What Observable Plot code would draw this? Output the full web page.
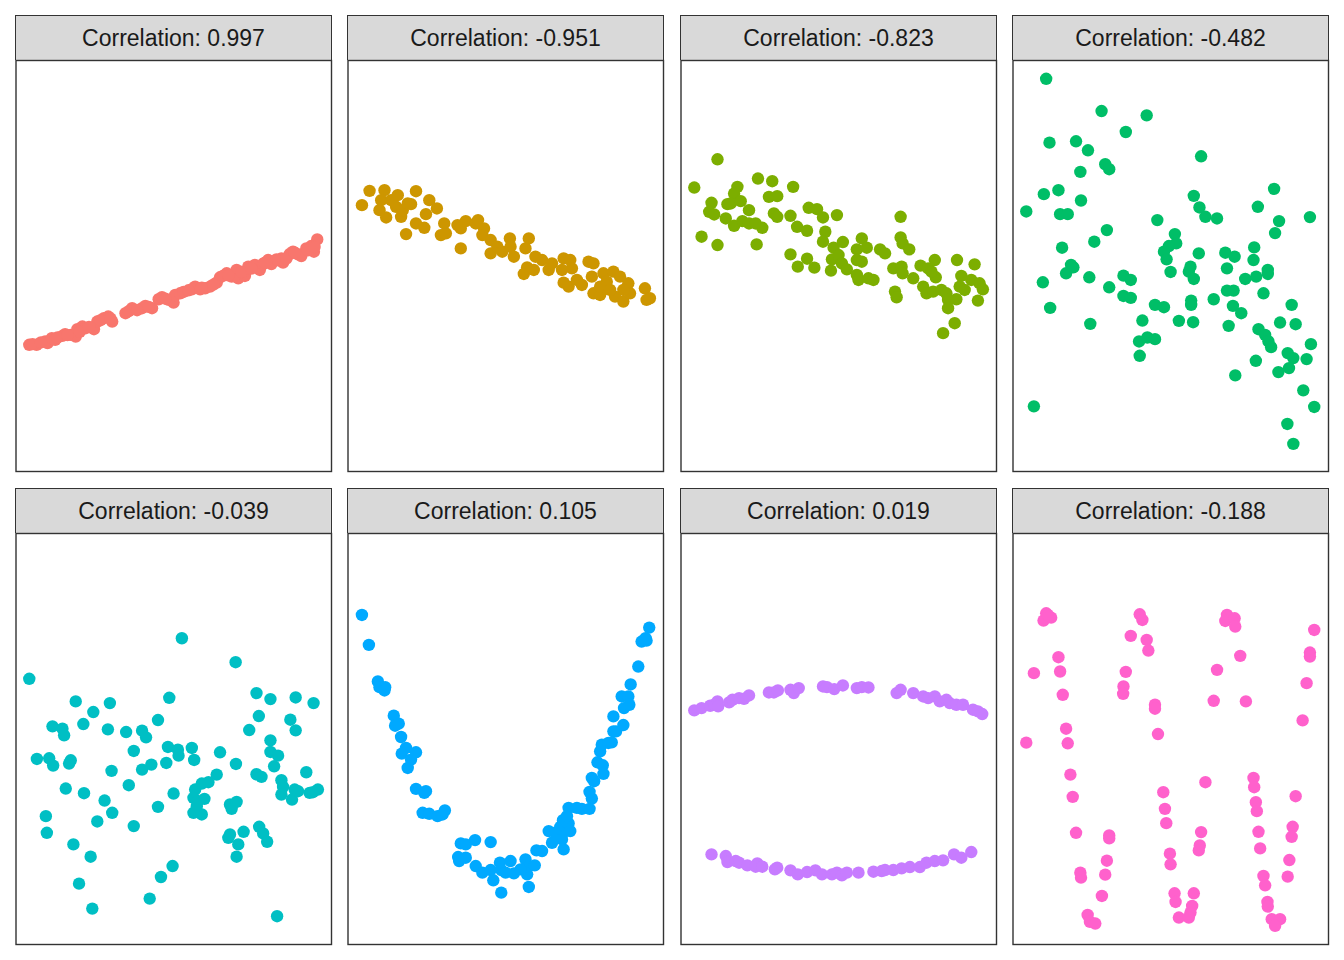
<!DOCTYPE html>
<html>
<head>
<meta charset="utf-8">
<script src="https://cdn.jsdelivr.net/npm/d3@7"></script>
<script src="https://cdn.jsdelivr.net/npm/@observablehq/plot@0.6"></script>
<style>
  html, body { margin: 0; padding: 0; background: #fff; }
  body { width: 1344px; height: 960px; position: relative; font-family: "Liberation Sans", Arial, Helvetica, sans-serif; }
  .strip { position: absolute; box-sizing: border-box; background: #d9d9d9; border: 1px solid #333; border-bottom: none;
           color: #1a1a1a; font-size: 23px; text-align: center; }
  .panel { position: absolute; }
  .panel svg { display: block; overflow: visible; }
</style>
</head>
<body>
<script>
// Facet titles
const labels = ["Correlation: 0.997", "Correlation: -0.951", "Correlation: -0.823", "Correlation: -0.482",
                "Correlation: -0.039", "Correlation: 0.105", "Correlation: 0.019", "Correlation: -0.188"];
const colors = ["#F8766D", "#CD9600", "#7CAE00", "#00BE67", "#00BFC4", "#00A9FF", "#C77CFF", "#FF61CC"];

// Each panel: [x, y] pairs (free scales)
const panel1 = [[4.0,38.1],[6.2,38.1],[8.8,39.1],[9.5,38.6],[10.8,40.1],[11.8,39.6],[14.0,40.8],[14.8,41.3],[16.5,41.1],[18.0,40.6],[18.5,42.8],[20.0,43.6],[21.0,43.1],[23.5,42.8],[24.5,45.1],[26.5,46.1],[27.8,46.6],[29.0,45.1],[33.0,47.6],[35.0,49.1],[38.0,49.1],[39.0,49.8],[41.0,49.1],[43.0,51.8],[44.0,52.4],[46.0,51.6],[47.5,50.8],[48.0,53.1],[49.5,53.6],[53.0,54.8],[54.0,55.6],[55.5,54.8],[57.0,55.1],[58.5,55.6],[60.5,56.8],[61.5,58.4],[63.5,59.6],[65.0,58.6],[66.5,60.6],[67.0,58.1],[69.0,58.8],[70.0,61.6],[72.0,62.1],[73.5,60.6],[74.5,62.4],[76.0,63.6],[77.0,62.4],[78.5,63.8],[80.0,64.1],[80.5,62.8],[82.5,65.4],[83.5,66.1],[85.0,65.3],[86.0,64.8],[87.5,67.1],[89.0,67.8],[89.8,66.1],[90.8,69.8],
  [5.0,38.3],[7.5,38.8],[12.5,40.3],[15.5,41.0],[19.2,42.0],[22.0,43.5],[25.5,45.5],[28.5,46.0],[34.0,48.2],[36.5,48.5],[40.0,49.5],[45.0,52.0],[50.5,54.0],[52.0,54.5],[56.0,55.3],[59.5,56.2],[62.5,58.9],[64.0,59.0],[68.0,60.0],[71.0,61.0],[75.0,62.8],[79.0,63.5],[81.5,64.0],[84.0,65.8],[88.0,66.5],[90.0,67.5]];
const panel2 = [[6.5,84.4],[11.0,84.6],[20.5,84.3],[4.2,80.1],[10.0,81.6],[9.5,78.6],[11.5,76.4],[13.0,81.6],[15.0,83.1],[14.5,79.6],[16.0,76.6],[16.5,78.6],[18.0,80.6],[19.0,80.4],[24.5,81.6],[26.8,79.1],[23.5,77.4],[20.5,74.6],[23.0,73.3],[17.5,71.4],[29.0,74.6],[28.0,71.1],[29.5,71.6],[33.0,74.1],[34.0,73.1],[35.5,75.3],[38.5,74.6],[39.2,75.6],[41.0,73.1],[40.5,71.1],[34.0,67.1],[43.0,69.6],[43.0,65.6],[45.0,67.6],[46.5,66.1],[48.8,70.1],[49.0,67.6],[50.0,64.6],[54.5,70.1],[53.5,67.1],[54.0,61.4],[53.0,59.4],[56.0,60.6],[56.5,64.6],[58.5,63.6],[60.5,60.6],[61.5,62.6],[65.0,64.1],[67.0,63.6],[64.5,60.6],[65.0,56.8],[66.5,55.6],[67.5,61.1],[69.0,57.6],[70.5,56.1],[72.5,63.1],[74.0,62.6],[73.5,58.6],[74.0,53.6],[76.0,53.1],[77.0,59.6],[78.0,57.1],[80.0,60.1],[82.0,58.6],[80.5,52.6],[83.0,51.1],[84.5,56.6],[85.0,53.6],[89.5,55.1],[90.0,51.6],[91.0,52.1],[76.0,55.6],[79.0,54.6],[83.0,54.6]];
const panel3 = [[11.0,93.9],[4.0,85.4],[17.0,85.6],[16.0,83.6],[23.2,88.1],[27.5,87.3],[33.8,85.6],[9.2,80.8],[8.5,78.1],[10.0,77.3],[14.0,80.4],[15.0,80.6],[18.0,81.3],[20.5,78.6],[26.5,82.6],[29.0,82.8],[13.5,76.1],[16.0,73.9],[18.5,75.3],[20.5,74.6],[22.5,74.6],[24.5,73.3],[6.2,70.6],[11.0,68.1],[22.8,68.3],[28.0,77.6],[29.0,76.6],[33.0,76.9],[35.0,73.6],[38.0,72.4],[38.5,79.3],[41.0,78.9],[42.8,76.4],[47.0,77.1],[43.5,72.1],[42.8,69.1],[46.0,67.3],[48.8,69.0],[54.5,70.1],[53.0,66.8],[56.0,67.3],[33.0,65.3],[35.2,61.6],[38.0,64.0],[40.2,61.3],[45.2,60.4],[45.5,63.8],[47.5,65.1],[48.5,62.6],[50.0,60.8],[53.0,59.1],[53.5,57.6],[53.0,63.6],[54.5,63.1],[56.5,58.1],[58.0,57.6],[60.0,66.8],[61.5,65.6],[66.2,76.6],[66.2,70.4],[66.8,68.6],[68.8,66.8],[64.0,61.1],[66.5,61.6],[66.8,59.6],[64.5,54.1],[65.0,52.4],[70.0,58.1],[72.2,61.9],[74.5,61.1],[76.5,63.6],[76.8,58.4],[73.0,55.6],[74.0,53.6],[76.0,54.1],[78.5,54.6],[80.0,53.6],[80.5,51.6],[80.5,49.1],[83.0,51.8],[83.2,63.6],[84.5,58.8],[84.0,55.6],[85.5,54.6],[87.5,57.6],[88.5,62.3],[90.0,56.6],[91.0,54.8],[89.5,51.4],[82.5,44.6],[79.0,41.6],[75.5,60.1]];
const panel4 = [[10.0,118.1],[26.7,108.4],[40.3,107.1],[34.0,102.1],[11.0,98.9],[19.0,99.3],[22.6,96.6],[27.8,92.4],[29.0,90.9],[20.3,90.1],[56.7,94.8],[9.3,83.4],[13.7,84.6],[20.5,81.5],[4.0,78.2],[14.2,77.4],[16.5,77.4],[54.5,82.9],[56.2,79.4],[58.0,76.6],[61.5,76.1],[43.5,75.6],[73.8,79.6],[78.7,85.0],[89.5,76.5],[80.2,75.3],[79.0,71.7],[28.3,72.6],[24.5,69.1],[14.8,67.3],[48.8,71.4],[49.2,68.6],[47.0,67.8],[45.5,66.1],[46.3,63.8],[56.0,65.6],[64.0,65.8],[66.8,64.6],[72.7,67.4],[72.5,63.6],[64.5,61.1],[53.5,61.6],[53.0,60.1],[54.5,57.9],[47.5,60.0],[17.5,62.1],[16.0,59.6],[18.2,61.4],[23.0,58.4],[9.0,56.9],[29.0,55.4],[33.3,58.9],[35.5,57.6],[33.3,52.8],[35.5,52.2],[70.0,57.9],[73.3,58.6],[76.8,60.6],[76.8,59.4],[64.5,54.4],[66.5,54.4],[75.5,53.6],[60.5,51.8],[53.7,51.4],[53.7,50.1],[42.8,50.1],[45.5,49.4],[66.3,49.8],[68.8,47.6],[11.2,49.2],[23.3,44.4],[39.0,45.4],[50.0,45.3],[54.3,44.9],[65.0,43.8],[74.0,42.8],[76.0,41.1],[77.0,39.1],[77.8,37.4],[80.5,44.8],[84.0,50.1],[85.2,44.3],[89.8,38.3],[88.5,33.8],[82.8,35.6],[84.5,34.1],[83.2,31.1],[80.0,29.9],[73.2,33.3],[67.0,28.9],[38.0,39.1],[40.5,40.3],[42.8,39.8],[38.2,34.8],[87.5,24.4],[90.8,19.4],[82.7,14.3],[84.5,8.3],[6.3,19.6]];
const panel5 = [[50.0,92.1],[66.2,84.9],[4.0,79.9],[18.0,73.1],[23.3,69.9],[28.3,72.6],[46.2,74.2],[72.5,75.6],[76.7,73.8],[84.3,74.3],[89.7,72.6],[73.2,68.7],[82.7,67.6],[84.3,64.4],[70.3,64.5],[20.3,66.3],[11.0,65.6],[14.0,64.9],[14.5,62.9],[27.7,64.7],[33.2,63.9],[38.0,64.3],[39.2,62.3],[42.8,67.5],[35.5,58.2],[45.8,59.4],[48.8,58.6],[49.0,56.8],[53.0,59.1],[53.7,55.5],[61.5,57.8],[66.3,54.3],[76.7,61.4],[76.7,57.9],[79.0,56.8],[77.8,53.6],[87.5,51.8],[6.3,55.8],[10.0,56.0],[11.2,53.8],[16.0,54.4],[16.5,55.4],[28.8,52.2],[38.0,52.6],[40.8,54.1],[45.3,54.6],[60.5,51.1],[72.5,51.2],[74.0,50.4],[80.0,49.4],[80.5,47.4],[84.0,46.6],[80.0,45.1],[83.2,43.6],[85.0,46.1],[88.5,45.6],[91.0,46.6],[89.5,45.8],[54.0,46.6],[56.0,48.4],[58.0,48.8],[53.5,44.1],[54.8,43.1],[56.8,43.8],[53.5,39.6],[56.0,39.1],[54.5,41.6],[47.5,45.4],[42.8,41.4],[34.0,47.9],[15.0,46.9],[20.5,45.5],[26.7,43.3],[29.0,39.6],[24.5,37.0],[35.5,35.6],[9.0,38.6],[9.3,33.6],[64.5,42.1],[66.5,42.9],[65.0,40.8],[64.0,32.1],[64.5,33.1],[68.6,33.9],[67.0,30.1],[66.5,26.4],[73.3,35.4],[74.5,33.4],[75.7,30.9],[17.3,30.1],[22.5,26.4],[19.0,18.3],[23.0,10.8],[47.2,23.6],[43.7,20.3],[40.3,13.8],[78.7,8.5]];
const panel6 = [[4.2,99.1],[6.3,90.1],[9.0,79.1],[9.5,77.4],[11.2,77.4],[11.0,76.4],[13.8,68.8],[14.2,65.8],[15.3,66.4],[16.0,62.4],[17.5,59.1],[16.2,57.4],[19.0,55.6],[20.5,57.8],[18.0,53.1],[20.5,46.8],[23.5,46.1],[23.0,45.6],[22.5,39.6],[24.5,39.3],[27.0,38.6],[28.5,39.1],[29.2,40.3],[34.0,30.4],[35.5,30.1],[38.3,31.4],[43.0,30.8],[33.2,26.3],[33.5,25.1],[35.5,26.1],[38.5,23.6],[40.5,21.6],[43.0,22.4],[43.8,19.3],[45.8,24.6],[46.2,22.4],[47.5,21.6],[49.0,25.1],[50.0,21.4],[46.2,15.6],[53.5,25.6],[54.5,23.6],[54.0,21.1],[56.3,23.8],[54.5,17.3],[56.8,28.3],[58.5,28.1],[60.5,34.1],[61.5,30.6],[65.0,28.6],[64.0,35.4],[64.5,33.1],[66.5,36.4],[67.0,34.1],[66.5,41.1],[69.0,41.1],[70.5,40.8],[72.8,40.8],[73.5,43.9],[72.8,45.9],[73.5,50.1],[74.2,49.1],[77.0,51.3],[76.8,53.9],[75.2,54.8],[76.0,58.1],[76.5,60.1],[78.5,60.6],[79.5,60.8],[80.0,64.1],[80.8,64.1],[80.0,68.6],[83.0,66.0],[83.2,71.1],[82.5,74.6],[84.5,74.6],[84.8,72.1],[85.2,78.2],[87.5,83.6],[88.5,91.1],[90.0,91.4],[89.7,92.1],[90.8,95.3],[64.8,37.4],[66.0,38.6],[62.5,33.6],[64.5,31.6],[52.0,22.6]];
const panel7 = [[4.0,70.4],[6.2,71.1],[8.8,71.8],[10.0,72.1],[11.0,73.1],[11.2,71.6],[14.5,72.8],[15.5,73.6],[17.5,74.1],[19.0,73.9],[20.5,74.9],[26.5,75.8],[28.0,75.8],[29.2,76.4],[33.0,76.6],[34.0,75.6],[35.5,77.1],[42.8,77.6],[44.0,77.4],[46.2,76.8],[48.8,77.9],[53.0,77.1],[54.5,77.4],[56.5,77.3],[65.0,75.6],[66.2,76.6],[70.0,75.6],[73.0,74.6],[74.5,74.1],[76.5,74.6],[78.0,73.1],[80.0,73.6],[81.0,72.6],[83.0,72.1],[85.0,72.1],[88.0,70.6],[89.5,70.1],[90.8,69.3],
  [9.2,27.1],[13.5,26.6],[14.0,24.8],[16.5,25.1],[17.5,24.6],[20.0,23.8],[23.0,24.4],[22.5,23.4],[24.5,23.4],[28.3,22.6],[29.0,23.1],[33.0,22.3],[35.2,21.1],[38.0,21.8],[40.5,22.3],[42.5,21.1],[45.5,21.1],[47.0,21.6],[48.5,20.8],[50.0,21.6],[53.5,21.6],[58.0,21.9],[60.5,22.1],[61.5,22.4],[64.0,22.4],[66.5,22.9],[69.0,23.3],[72.0,23.3],[74.0,24.6],[76.5,25.1],[79.0,25.3],[82.3,27.1],[84.5,26.1],[87.5,27.8]];
const panel8 = [[10.0,99.6],[9.2,97.4],[11.5,98.3],[10.5,99.1],[38.2,99.3],[39.0,97.6],[35.5,92.8],[40.3,91.6],[40.8,88.4],[64.5,99.1],[64.0,97.3],[66.8,98.1],[67.0,95.6],[90.8,94.6],[89.5,87.8],[89.5,86.6],[88.5,78.6],[87.3,67.4],[68.5,86.8],[61.5,82.6],[60.5,73.3],[70.2,73.1],[13.7,86.4],[14.2,82.1],[6.3,81.6],[15.0,75.1],[16.0,64.9],[16.5,60.5],[4.0,60.7],[17.3,51.1],[18.0,44.4],[19.0,33.6],[34.0,82.0],[33.3,77.6],[33.2,75.4],[42.8,72.1],[42.8,70.9],[43.7,63.3],[58.0,48.8],[45.3,45.8],[45.8,40.8],[46.2,36.5],[47.3,27.3],[47.5,24.1],[56.7,33.8],[56.3,29.8],[56.0,28.3],[72.5,50.1],[72.7,47.3],[73.2,42.8],[73.5,40.1],[74.0,33.9],[74.5,28.9],[75.5,20.6],[76.0,17.8],[76.7,12.8],[76.8,11.4],[78.0,7.6],[80.5,7.6],[79.0,5.6],[85.2,44.6],[84.3,35.4],[84.0,32.4],[83.3,25.4],[82.8,20.4],[29.0,32.8],[29.0,31.9],[28.3,25.2],[27.8,21.0],[20.3,21.6],[20.5,20.1],[26.8,14.6],[22.5,8.9],[23.2,6.8],[24.8,6.3],[48.7,15.4],[49.0,12.8],[50.0,8.1],[54.5,15.4],[54.0,11.6],[53.5,9.6],[53.0,8.1]];

const panels = [panel1, panel2, panel3, panel4, panel5, panel6, panel7, panel8];

// layout
const colLeft = [15, 347, 680, 1012];
const rowTop = [15, 488];
const stripH = 45;
const panelW = 317, panelH = 413;

panels.forEach((pts, i) => {
  const col = i % 4, row = Math.floor(i / 4);
  const strip = document.createElement("div");
  strip.className = "strip";
  strip.style.left = colLeft[col] + "px";
  strip.style.top = rowTop[row] + "px";
  strip.style.width = panelW + "px";
  strip.style.height = stripH + "px";
  strip.style.lineHeight = (stripH - 1) + "px";
  strip.textContent = labels[i];
  document.body.appendChild(strip);

  const chart = Plot.plot({
    width: panelW,
    height: panelH,
    marginTop: 1, marginBottom: 1, marginLeft: 0.5, marginRight: 1,
    x: {domain: [0, 95.1], axis: null},
    y: {domain: [0, 123.6], axis: null},
    marks: [
      Plot.frame({stroke: "#333333", strokeWidth: 1.4}),
      Plot.dot(pts, {x: d => d[0], y: d => d[1], r: 6.2, fill: colors[i], stroke: "none"})
    ]
  });
  const holder = document.createElement("div");
  holder.className = "panel";
  holder.style.left = colLeft[col] + "px";
  holder.style.top = (rowTop[row] + stripH - 1) + "px";
  holder.appendChild(chart);
  document.body.appendChild(holder);
});
</script>
</body>
</html>
